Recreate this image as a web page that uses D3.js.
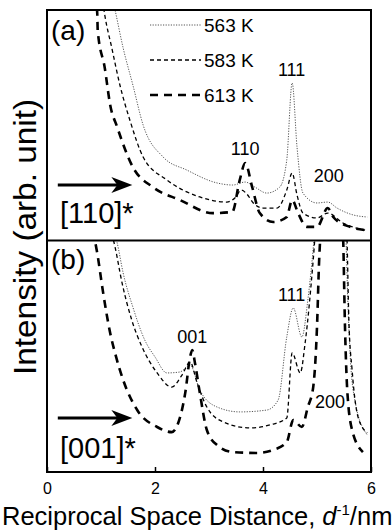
<!DOCTYPE html>
<html>
<head>
<meta charset="utf-8">
<script src="https://cdn.jsdelivr.net/npm/d3@7"></script>
<style>
  body { margin: 0; background: #fff; }
  svg { display: block; font-family: "Liberation Sans", Arial, sans-serif; }
</style>
</head>
<body>
<svg id="chart" width="392" height="532"></svg>
<script>
// temperatures (legend)
var temps = ['563 K', '583 K', '613 K'];

// panel (a) [110]* — [d^-1 (nm^-1), intensity (arb. 0-100 of panel height)]
var a563 = [[1.13,113],[1.26,100],[1.41,83.5],[1.59,67.4],[1.78,50],[2.15,36.1],[2.59,30.4],[3.15,24.8],[3.44,23.9],[3.67,25.2],[3.85,23.0],[4.07,20.4],[4.31,23.0],[4.44,34.8],[4.54,68.3],[4.63,40.4],[4.74,20.4],[5.0,16.1],[5.2,16.5],[5.37,13.9],[5.67,10.9],[5.93,10.0]];
var a583 = [[0.98,113],[1.07,97.8],[1.2,83.5],[1.35,67.4],[1.54,51.7],[1.78,36.1],[2.22,26.1],[2.83,18.7],[3.33,16.5],[3.48,18.3],[3.6,21.7],[3.7,20.0],[3.82,16.1],[4.0,13.9],[4.26,13.9],[4.44,21.7],[4.54,29.1],[4.63,19.6],[4.74,11.7],[5.0,9.6],[5.2,11.7],[5.48,7.4],[5.89,4.3]];
var a613 = [[0.87,113],[0.93,98.7],[0.94,90.9],[1.07,74.8],[1.17,58.7],[1.3,49.1],[1.59,31.7],[1.96,23.0],[2.46,17.4],[3.07,11.7],[3.43,12.2],[3.57,26.1],[3.67,33.5],[3.8,23.0],[3.94,11.7],[4.19,7.8],[4.44,10.0],[4.54,17.4],[4.65,11.7],[4.81,5.7],[5.0,5.7],[5.2,13.9],[5.3,10.0],[5.61,5.7],[5.89,4.3]];

// panel (b) [001]*
var b563 = [[1.17,108.6],[1.3,98.7],[1.41,85.8],[1.59,71.1],[1.81,56.9],[2.0,49.6],[2.22,42.7],[2.46,43.1],[2.65,46.1],[2.83,35.3],[3.15,28.0],[3.57,25.9],[4.07,26.7],[4.28,31.0],[4.44,58.2],[4.56,70.7],[4.72,58.2],[4.83,74.1],[4.91,91.4],[4.96,104],[5.2,130],[5.45,120],[5.53,104],[5.57,74],[5.62,48],[5.7,31],[5.93,16]];
var b583 = [[1.13,108.6],[1.26,97],[1.39,81.5],[1.57,65.5],[1.76,53.9],[2.04,42.7],[2.31,36.6],[2.5,41.8],[2.65,47.4],[2.78,38.4],[2.96,28.0],[3.26,21.6],[3.76,19.0],[4.13,20.3],[4.44,23.3],[4.54,51.3],[4.69,42.7],[4.78,55.6],[4.93,91.4],[4.98,106],[5.2,130],[5.45,125],[5.55,104],[5.59,65.5],[5.65,44],[5.76,23.7],[5.93,16.8]];
var b613 = [[0.85,104],[0.93,94.4],[1.04,77.2],[1.17,59.9],[1.26,51.3],[1.41,39.7],[1.67,26.7],[2.04,19.4],[2.31,17.2],[2.43,21.1],[2.56,34.1],[2.65,49.6],[2.69,52.6],[2.74,47.0],[2.83,34.1],[2.96,18.1],[3.15,11.6],[3.44,8.6],[3.89,8.2],[4.19,9.5],[4.44,12.9],[4.56,22.4],[4.72,19.4],[4.83,28.0],[4.93,36.6],[5.0,62.5],[5.04,91.4],[5.07,104],[5.25,130],[5.44,115],[5.48,104],[5.52,61],[5.56,35.3],[5.65,18.1],[5.85,8.6]];

var xTicks = [0, 2, 4, 6];

// peak labels: [text, d position, baseline px]
var peakA = [['110', 3.67, 155], ['111', 4.53, 76], ['200', 5.22, 182]];
var peakB = [['001', 2.69, 343], ['111', 4.53, 301], ['200', 5.24, 408]];

// line styles per temperature
var styles = [
  { color: '#555', width: 1, dash: '1.2,1.4' },
  { color: '#000', width: 1.3, dash: '4,3' },
  { color: '#000', width: 2.6, dash: '8,6' }
];

var svg = d3.select('#chart');
var left = 47, right = 371;

var x = d3.scaleLinear().domain([0, 6]).range([left, right]);
var yA = d3.scaleLinear().domain([0, 100]).range([240, 10]);
var yB = d3.scaleLinear().domain([0, 100]).range([472, 240]);

function drawPanel(id, y, seriesList) {
  svg.append('clipPath').attr('id', id)
    .append('rect')
      .attr('x', left).attr('y', y.range()[1])
      .attr('width', right - left).attr('height', y.range()[0] - y.range()[1]);

  var line = d3.line()
    .x(d => x(d[0]))
    .y(d => y(d[1]))
    .curve(d3.curveMonotoneX);

  var g = svg.append('g').attr('clip-path', 'url(#' + id + ')');
  seriesList.forEach(function(s, i) {
    g.append('path')
      .datum(s)
      .attr('d', line)
      .attr('fill', 'none')
      .attr('stroke', styles[i].color)
      .attr('stroke-width', styles[i].width)
      .attr('stroke-dasharray', styles[i].dash);
  });
}

drawPanel('clipA', yA, [a563, a583, a613]);
drawPanel('clipB', yB, [b563, b583, b613]);

// frame and divider
svg.append('rect')
  .attr('x', left).attr('y', 10)
  .attr('width', right - left).attr('height', 462)
  .attr('fill', 'none').attr('stroke', '#000').attr('stroke-width', 2);
svg.append('line')
  .attr('x1', left).attr('x2', right)
  .attr('y1', 240.5).attr('y2', 240.5)
  .attr('stroke', '#000').attr('stroke-width', 2);

// x axis (inner ticks)
var xAxis = d3.axisBottom(x)
  .tickValues(xTicks)
  .tickFormat(d3.format('d'))
  .tickSizeInner(-5)
  .tickSizeOuter(0)
  .tickPadding(11);
var ax = svg.append('g')
  .attr('transform', 'translate(0,472)')
  .call(xAxis);
ax.select('.domain').remove();
ax.selectAll('line').attr('stroke-width', 1.5);
ax.selectAll('text')
  .attr('font-size', 16)
  .attr('font-family', '"Liberation Sans", Arial, sans-serif');

// x axis title
var xt = svg.append('text')
  .attr('x', 2).attr('y', 525)
  .attr('font-size', 25.5);
xt.append('tspan').text('Reciprocal Space Distance, ');
xt.append('tspan').attr('font-style', 'italic').text('d');
xt.append('tspan').attr('font-size', 15).attr('dy', -10).text('-1');
xt.append('tspan').attr('dy', 10).text('/nm');

// y axis title
svg.append('text')
  .attr('transform', 'translate(36,237) rotate(-90)')
  .attr('text-anchor', 'middle')
  .attr('font-size', 32)
  .attr('textLength', 276)
  .attr('lengthAdjust', 'spacingAndGlyphs')
  .text('Intensity (arb. unit)');

// panel letters
svg.append('text').attr('x', 51).attr('y', 40).attr('font-size', 28).text('(a)');
svg.append('text').attr('x', 51).attr('y', 269).attr('font-size', 28).text('(b)');

// legend
var legY = [25, 60, 95];
temps.forEach(function(t, i) {
  svg.append('line')
    .attr('x1', 150).attr('x2', 201)
    .attr('y1', legY[i]).attr('y2', legY[i])
    .attr('stroke', styles[i].color)
    .attr('stroke-width', styles[i].width)
    .attr('stroke-dasharray', styles[i].dash);
  svg.append('text')
    .attr('x', 204).attr('y', legY[i] + 6.5)
    .attr('font-size', 19)
    .text(t);
});

peakA.concat(peakB).forEach(function(p) {
  svg.append('text')
    .attr('x', x(p[1])).attr('y', p[2])
    .attr('text-anchor', 'middle')
    .attr('font-size', 18)
    .text(p[0]);
});

// direction arrows and zone labels
function arrow(yPix, label, labelY) {
  var x0 = x(0.2), x1 = x(1.58);
  svg.append('line')
    .attr('x1', x0).attr('x2', x1 - 12)
    .attr('y1', yPix).attr('y2', yPix)
    .attr('stroke', '#000').attr('stroke-width', 3);
  svg.append('path')
    .attr('d', 'M' + (x1 - 21) + ',' + (yPix - 8) + 'L' + x1 + ',' + yPix + 'L' + (x1 - 21) + ',' + (yPix + 8) + 'L' + (x1 - 15) + ',' + yPix + 'Z')
    .attr('fill', '#000');
  svg.append('text')
    .attr('x', 60).attr('y', labelY)
    .attr('font-size', 29)
    .text(label);
}
arrow(185, '[110]*', 223);
arrow(418, '[001]*', 458);
</script>
</body>
</html>
